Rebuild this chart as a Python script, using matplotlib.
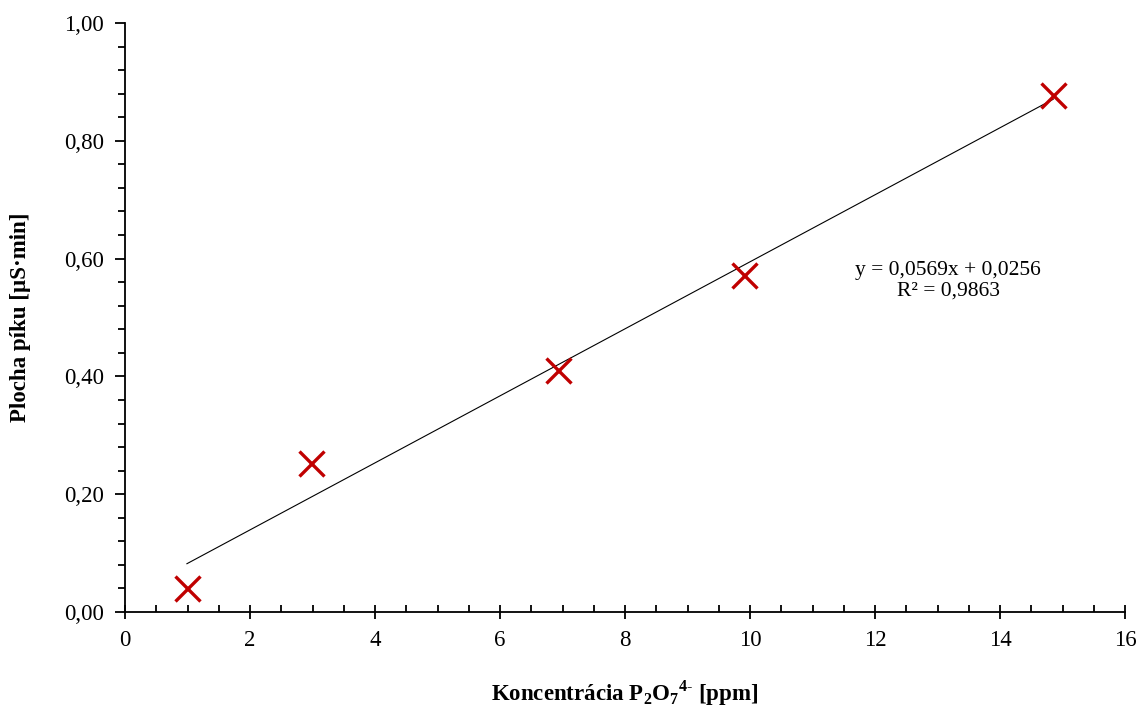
import matplotlib
matplotlib.use("Agg")
import matplotlib.pyplot as plt
import numpy as np
from matplotlib.ticker import MultipleLocator, FuncFormatter

plt.rcParams["font.family"] = ["Liberation Serif", "DejaVu Serif"]
plt.rcParams["mathtext.fontset"] = "custom"
plt.rcParams["mathtext.rm"] = "Liberation Serif"
plt.rcParams["mathtext.bf"] = "Liberation Serif:bold"

# data
conc = [0.99, 2.97, 6.93, 9.9, 14.85]
area = [0.041, 0.253, 0.411, 0.573, 0.877]
slope = 0.0569
intercept = 0.0256
r2_text = "0,9863"

fig = plt.figure(figsize=(11.43, 7.13), dpi=100)
ax = fig.add_axes([0.1094, 0.1417, 0.8749, 0.826])

x_fit = np.array([min(conc), max(conc)])
ax.plot(x_fit, slope * x_fit + intercept, color="black", lw=0.8, zorder=2)
ax.plot(conc, area, linestyle="none", marker="x", color="#C00000",
        markersize=18, markeredgewidth=2.4, zorder=3)

ax.set_xlim(0, 16)
ax.set_ylim(0, 1.0)
ax.xaxis.set_major_locator(MultipleLocator(2))
ax.xaxis.set_minor_locator(MultipleLocator(0.5))
ax.yaxis.set_major_locator(MultipleLocator(0.2))
ax.yaxis.set_minor_locator(MultipleLocator(0.04))
ax.yaxis.set_major_formatter(FuncFormatter(lambda v, p: f"{v:.2f}".replace(".", ",")))

for s in ["top", "right"]:
    ax.spines[s].set_visible(False)
for s in ["left", "bottom"]:
    ax.spines[s].set_linewidth(1.3)

ax.tick_params(axis="x", which="major", direction="inout", length=10, width=1.3,
               labelsize=16.5, pad=8)
ax.tick_params(axis="x", which="minor", direction="in", length=5, width=1.3)
ax.tick_params(axis="y", which="major", direction="out", length=7, width=1.3,
               labelsize=16.5, pad=8)
ax.tick_params(axis="y", which="minor", direction="out", length=5, width=1.3)

ax.set_xlabel(r"Koncentrácia P$_{\mathbf{2}}$O$_{\mathbf{7}}$$^{\mathbf{4}\text{-}}$ [ppm]",
              fontsize=16.5, fontweight="bold", labelpad=20)
ax.set_ylabel("Plocha píku [µS·min]", fontsize=16.5, fontweight="bold", labelpad=24)

eq = f"y = {slope:.4f}x + {intercept:.4f}".replace(".", ",")
ax.text(13.17, 0.562, eq + "\nR² = " + r2_text, ha="center", va="center",
        multialignment="center", fontsize=15.5, linespacing=1.15)

fig.savefig("out.png", dpi=100)
